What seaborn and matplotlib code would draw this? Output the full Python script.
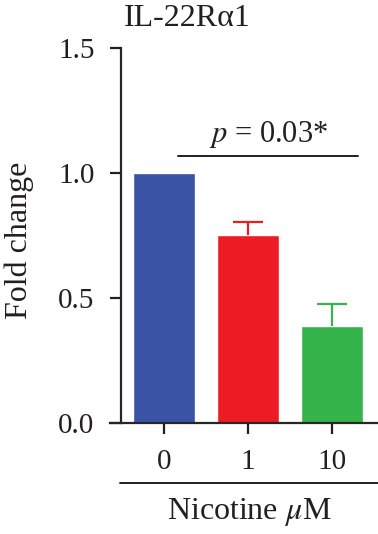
import matplotlib
matplotlib.use("Agg")
import matplotlib.pyplot as plt
import seaborn as sns
import pandas as pd

# Data
doses = ["0", "1", "10"]
fold_change = [1.0, 0.752, 0.388]
sem = [0.0, 0.052, 0.088]
bar_colors = ["#3A53A4", "#ED1C24", "#34B44A"]

sns.set_style("ticks")
plt.rcParams["font.family"] = ["Liberation Serif", "DejaVu Serif"]
plt.rcParams["mathtext.fontset"] = "stix"

df = pd.DataFrame({"dose": doses, "fold": fold_change})

fig = plt.figure(figsize=(3.78, 5.34), dpi=100)
ax = fig.add_axes([110 / 378, 1 - 423 / 534, 268 / 378, 375 / 534])

sns.barplot(data=df, x="dose", y="fold", hue="dose", palette=bar_colors,
            order=doses, width=0.74, legend=False, ax=ax, saturation=1)

# upper-only error bars
for i, (v, e, c) in enumerate(zip(fold_change, sem, bar_colors)):
    if e > 0:
        eb = ax.errorbar(i, v, yerr=[[0], [e]], fmt="none", ecolor=c,
                         elinewidth=1.6, capsize=10.5, capthick=1.6)
        eb[1][0].set_visible(False)

ax.set_xlim(-0.643, 2.548)
ax.set_ylim(0, 1.5)
ax.set_yticks([0.0, 0.5, 1.0, 1.5])
ax.set_yticklabels(["0.0", "0.5", "1.0", "1.5"])

ax.spines["left"].set_position(("data", -0.512))
ax.spines["left"].set_linewidth(1.6)
ax.spines["bottom"].set_linewidth(1.6)
sns.despine(ax=ax)
ax.tick_params(axis="both", labelsize=21, width=1.6, length=8, colors="#231F20")
ax.tick_params(axis="y", pad=11)
ax.tick_params(axis="x", pad=10.5)
ax.set_xlabel("")
ax.set_ylabel("")

# significance bar
ax.plot([0.167, 2.31], [1.068, 1.068], color="#231F20", lw=1.4, clip_on=False)
ax.text(1.24, 1.09, "$p$ = 0.03*", ha="center", va="bottom", fontsize=22,
        color="#231F20")

# line under tick labels + axis title
ax.plot([10 / 268, 1.0], [-0.16, -0.16], color="#231F20", lw=1.4,
        transform=ax.transAxes, clip_on=False)
ax.text(0.519, -0.237, "Nicotine $\\mu$M", transform=ax.transAxes,
        ha="center", va="center", fontsize=23, color="#231F20")

fig.text(187 / 378, 1 - 19 / 534, "IL-22R\u03b11", ha="center", va="center",
         fontsize=23, color="#231F20")
fig.text(19 / 378, 1 - 240 / 534, "Fold change", rotation=90, ha="center",
         va="center", fontsize=23, color="#231F20")

fig.savefig("out.png", dpi=100)
